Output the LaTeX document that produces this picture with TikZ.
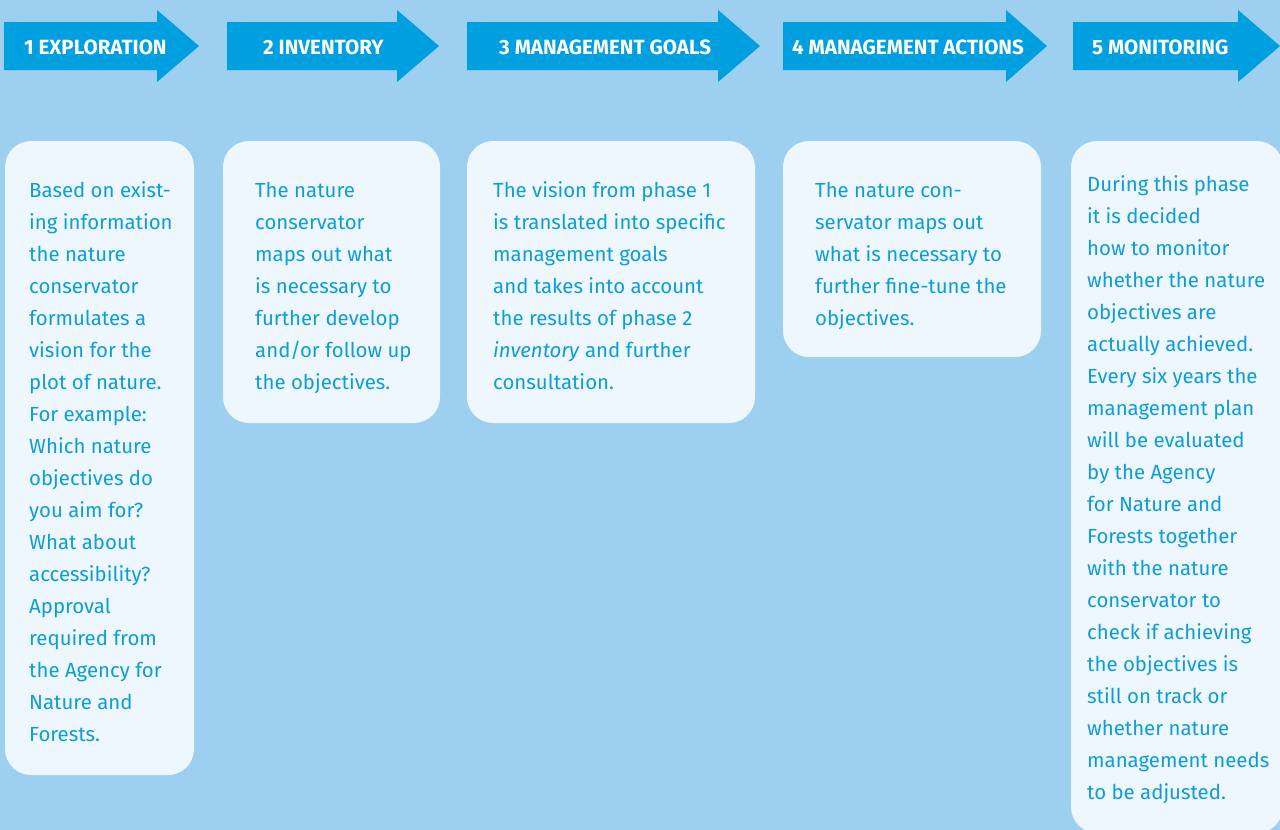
\documentclass[tikz,border=0pt]{standalone}
\usepackage{fontspec}
\setmainfont{Fira Sans}
\definecolor{bgblue}{HTML}{9CCFF0}
\definecolor{arrowblue}{HTML}{009FDF}
\definecolor{boxfill}{HTML}{EEF7FD}
\definecolor{txtblue}{HTML}{0D9DDB}
\tikzset{
  phasearrow/.style={fill=arrowblue, draw=none},
  phaselabel/.style={anchor=base west, inner sep=0pt, text=white, font=\bfseries\fontsize{20.6}{22}\selectfont},
  infobox/.style={fill=boxfill, draw=none, rounded corners=26pt},
  infotext/.style={anchor=north west, inner sep=0pt, align=left, text=txtblue, font=\fontsize{20.4}{32}\selectfont}
}
\newcommand{\fl}{\rule{0pt}{20pt}}
\begin{document}
\begin{tikzpicture}[x=1pt,y=-1pt]
\useasboundingbox (0,0) rectangle (1280,830);
\clip (0,0) rectangle (1280,830);
\fill[bgblue] (0,0) rectangle (1280,830);
% arrows
\fill[phasearrow] (4,22) -- (157,22) -- (157,10) -- (199,46) -- (157,82) -- (157,70) -- (4,70) -- cycle;
\fill[phasearrow] (227,22) -- (397,22) -- (397,10) -- (439,46) -- (397,82) -- (397,70) -- (227,70) -- cycle;
\fill[phasearrow] (467,22) -- (718,22) -- (718,10) -- (760,46) -- (718,82) -- (718,70) -- (467,70) -- cycle;
\fill[phasearrow] (783,22) -- (1006,22) -- (1006,10) -- (1047,46) -- (1006,82) -- (1006,70) -- (783,70) -- cycle;
\fill[phasearrow] (1073,22) -- (1238,22) -- (1238,10) -- (1280,46) -- (1238,82) -- (1238,70) -- (1073,70) -- cycle;
\node[phaselabel] (l1) at (24,54) {1 EXPLORATION};
\node[phaselabel] (l2) at (263,54) {2 INVENTORY};
\node[phaselabel] (l3) at (499,54) {3 MANAGEMENT GOALS};
\node[phaselabel] (l4) at (792,54) {4 MANAGEMENT ACTIONS};
\node[phaselabel] (l5) at (1092,54) {5 MONITORING};
% boxes
\fill[infobox] (5,141) rectangle (194,775);
\fill[infobox] (223,141) rectangle (440,423);
\fill[infobox] (467,141) rectangle (755,423);
\fill[infobox] (783,141) rectangle (1041,357);
\fill[infobox] (1071,141) rectangle (1283,833);
\node[infotext] (t1) at (29,177) {\fl Based on exist-\\ing information\\the nature\\conservator\\formulates a\\vision for the\\plot of nature.\\For example:\\Which nature\\objectives do\\you aim for?\\What about\\accessibility?\\Approval\\required from\\the Agency for\\Nature and\\Forests.};
\node[infotext] (t2) at (255,177) {\fl The nature\\conservator\\maps out what\\is necessary to\\further develop\\and/or follow up\\the objectives.};
\node[infotext] (t3) at (493,177) {\fl The vision from phase 1\\is translated into specific\\management goals\\and takes into account\\the results of phase 2\\\textit{inventory} and further\\consultation.};
\node[infotext] (t4) at (815,177) {\fl The nature con-\\servator maps out\\what is necessary to\\further fine-tune the\\objectives.};
\node[infotext] (t5) at (1087,171) {\fl During this phase\\it is decided\\how to monitor\\whether the nature\\objectives are\\actually achieved.\\Every six years the\\management plan\\will be evaluated\\by the Agency\\for Nature and\\Forests together\\with the nature\\conservator to\\check if achieving\\the objectives is\\still on track or\\whether nature\\management needs\\to be adjusted.};
\end{tikzpicture}
\end{document}
